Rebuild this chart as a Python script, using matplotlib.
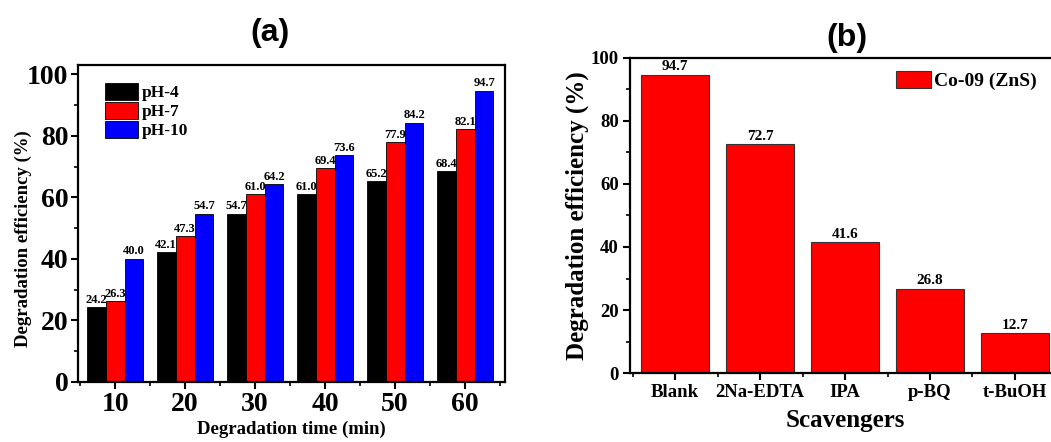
import numpy as np
import matplotlib.pyplot as plt
from matplotlib.ticker import MultipleLocator

plt.rcParams['font.family'] = 'Liberation Serif'
plt.rcParams['font.weight'] = 'bold'

# panel (a) data
times = ["10", "20", "30", "40", "50", "60"]
ph4 = [24.2, 42.1, 54.7, 61.0, 65.2, 68.4]
ph7 = [26.3, 47.3, 61.0, 69.4, 77.9, 82.1]
ph10 = [40.0, 54.7, 64.2, 73.6, 84.2, 94.7]

# panel (b) data
scavengers = ["Blank", "2Na-EDTA", "IPA", "p-BQ", "t-BuOH"]
scav_eff = [94.7, 72.7, 41.6, 26.8, 12.7]

fig = plt.figure(figsize=(10.51, 4.42), dpi=100)

# ---- panel (a) ----
ax1 = fig.add_axes([0.0742, 0.136, 0.4063, 0.717])
x = np.arange(len(times))
w = 0.27
series = [("pH-4", ph4, "#000000"), ("pH-7", ph7, "#ff0000"), ("pH-10", ph10, "#0000ff")]
for i, (lab, vals, col) in enumerate(series):
    bars = ax1.bar(x + (i - 1) * w, vals, width=w, color=col, edgecolor="black",
                   linewidth=0.6, label=lab)
    ax1.bar_label(bars, labels=[f"{v:.1f}" for v in vals], padding=1, fontsize=9,
                  fontweight="bold")
ax1.set_xlim(-0.53, 5.57)
ax1.set_ylim(0, 103)
ax1.set_xticks(x)
ax1.set_xticklabels(times)
ax1.xaxis.set_minor_locator(MultipleLocator(0.5))
ax1.yaxis.set_major_locator(MultipleLocator(20))
ax1.yaxis.set_minor_locator(MultipleLocator(10))
ax1.tick_params(axis="both", which="major", direction="out", length=5, width=1.5,
                labelsize=20, pad=2)
ax1.tick_params(axis="both", which="minor", direction="out", length=3, width=1.2)
ax1.set_ylabel("Degradation efficiency (%)", fontsize=13.5, fontweight="bold")
ax1.yaxis.set_label_coords(-0.108, 0.451)
ax1.set_xlabel("Degradation time (min)", fontsize=13.5, fontweight="bold", labelpad=3)
for s in ax1.spines.values():
    s.set_linewidth(1.6)
ax1.legend(loc="upper left", bbox_to_anchor=(0.063, 0.943), frameon=False, fontsize=12.5,
           handlelength=1.9, handleheight=1.1, handletextpad=0.2, labelspacing=0.05,
           borderaxespad=0.0, borderpad=0.0)

# ---- panel (b) ----
ax2 = fig.add_axes([0.5994, 0.156, 0.4092, 0.713])
xb = np.arange(len(scavengers))
bars2 = ax2.bar(xb, scav_eff, width=0.8, color="#ff0000", edgecolor="#333333",
                linewidth=0.8, label="Co-09 (ZnS)")
ax2.bar_label(bars2, labels=[f"{v:.1f}" for v in scav_eff], padding=1, fontsize=11,
              fontweight="bold")
ax2.set_xlim(-0.53, 4.53)
ax2.set_ylim(0, 100)
ax2.set_xticks(xb)
ax2.set_xticklabels(scavengers)
ax2.xaxis.set_minor_locator(MultipleLocator(0.5))
ax2.yaxis.set_major_locator(MultipleLocator(20))
ax2.yaxis.set_minor_locator(MultipleLocator(10))
ax2.tick_params(axis="both", which="major", direction="out", length=5, width=1.5,
                labelsize=13.5, pad=3)
ax2.tick_params(axis="both", which="minor", direction="out", length=3, width=1.2)
ax2.set_ylabel("Degradation efficiency (%)", fontsize=18, fontweight="bold", labelpad=1)
ax2.set_xlabel("Scavengers", fontsize=18, fontweight="bold", labelpad=6)
for s in ax2.spines.values():
    s.set_linewidth(1.6)
ax2.legend(loc="upper right", bbox_to_anchor=(0.945, 0.96), frameon=False, fontsize=14,
           handlelength=1.8, handleheight=1.0, handletextpad=0.15, borderaxespad=0.0,
           borderpad=0.0)

fig.text(0.257, 0.925, "(a)", ha="center", va="center", fontsize=23,
         fontweight="bold", family="Liberation Sans")
fig.text(0.806, 0.914, "(b)", ha="center", va="center", fontsize=23,
         fontweight="bold", family="Liberation Sans")

fig.savefig("out.png", dpi=100)
